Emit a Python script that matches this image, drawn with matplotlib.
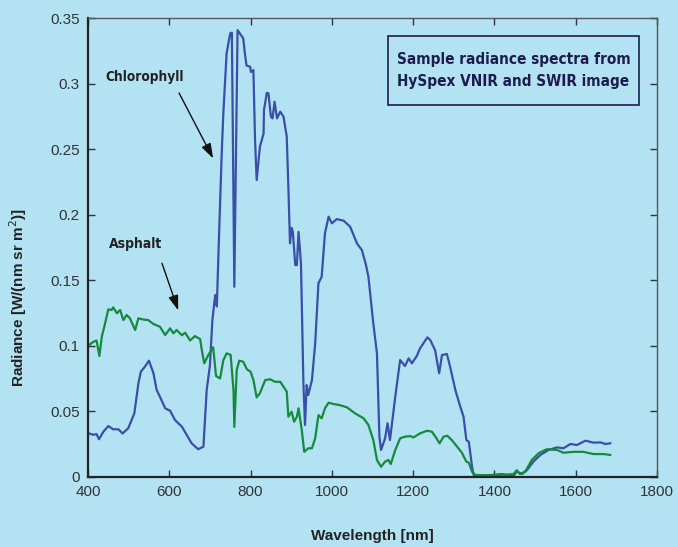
import matplotlib
matplotlib.use("Agg")
import matplotlib.pyplot as plt
from matplotlib.patches import Rectangle
import numpy as np

# Chlorophyll spectrum (wavelength nm, radiance)
chl_wl = [403, 413, 421, 427, 438, 450, 462, 475, 485, 499, 514, 524, 530, 540, 550,
          561, 569, 577, 590, 602, 614, 631, 643, 655, 671, 684, 692, 700, 706, 713,
          717, 721, 729, 733, 741, 750, 754, 760, 768, 782, 786, 790, 799, 801, 807,
          811, 815, 823, 832, 833, 840, 844, 850, 854, 859, 865, 873, 881, 889, 893,
          897, 901, 904, 910, 914, 918, 924, 930, 934, 938, 942, 951, 959, 967, 975,
          983, 992, 1000, 1012, 1029, 1045, 1062, 1074, 1084, 1090, 1102, 1111, 1117,
          1121, 1131, 1137, 1143, 1156, 1168, 1180, 1189, 1197, 1209, 1217, 1235,
          1242, 1254, 1264, 1271, 1283, 1291, 1304, 1316, 1324, 1331, 1337, 1345,
          1349, 1380, 1418, 1447, 1455, 1468, 1480, 1496, 1513, 1533, 1554, 1570,
          1587, 1603, 1624, 1644, 1661, 1673, 1685]
chl_rad = [0.033, 0.032, 0.0326, 0.0286, 0.0344, 0.0387, 0.0362, 0.0362, 0.033, 0.037,
           0.0484, 0.0713, 0.0802, 0.084, 0.0886, 0.079, 0.0662, 0.061, 0.0522, 0.0504,
           0.0433, 0.0382, 0.0318, 0.0255, 0.021, 0.0229, 0.066, 0.085, 0.1196, 0.1387,
           0.130, 0.1706, 0.247, 0.2775, 0.3233, 0.3386, 0.339, 0.145, 0.341, 0.3347,
           0.323, 0.314, 0.313, 0.309, 0.3105, 0.257, 0.2265, 0.252, 0.262, 0.28,
           0.2932, 0.2927, 0.275, 0.2736, 0.2863, 0.2736, 0.2787, 0.275, 0.2596, 0.2214,
           0.1782, 0.190, 0.187, 0.1616, 0.1616, 0.187, 0.163, 0.0713, 0.0395, 0.070,
           0.0624, 0.0738, 0.1018, 0.1477, 0.1527, 0.1858, 0.1985, 0.1935, 0.1967,
           0.1955, 0.1909, 0.178, 0.173, 0.1616, 0.1527, 0.117, 0.0942, 0.0305, 0.0204,
           0.0293, 0.0408, 0.028, 0.0611, 0.0891, 0.0845, 0.0904, 0.0866, 0.0922, 0.098,
           0.1064, 0.1044, 0.0967, 0.079, 0.0929, 0.0937, 0.084, 0.066, 0.0535, 0.0458,
           0.028, 0.0267, 0.0076, 0.0013, 0.001, 0.002, 0.0005, 0.004, 0.002, 0.005,
           0.0115, 0.0166, 0.0204, 0.0224, 0.0217, 0.025, 0.0242, 0.0275, 0.026, 0.0262,
           0.025, 0.0255]

# Asphalt spectrum
asp_wl = [403, 413, 421, 428, 434, 442, 450, 458, 462, 471, 479, 487, 495, 503, 516,
          524, 536, 548, 561, 577, 590, 602, 610, 618, 631, 639, 651, 663, 676, 680,
          686, 696, 708, 715, 725, 733, 741, 751, 758, 760, 766, 772, 782, 791, 800,
          807, 815, 823, 836, 848, 860, 873, 881, 889, 893, 901, 907, 914, 918, 926,
          932, 942, 951, 959, 967, 975, 983, 992, 1004, 1019, 1037, 1057, 1078, 1090,
          1102, 1111, 1121, 1131, 1139, 1145, 1156, 1168, 1180, 1193, 1201, 1217,
          1234, 1246, 1254, 1265, 1275, 1284, 1295, 1308, 1320, 1331, 1337, 1345,
          1353, 1400, 1447, 1455, 1463, 1476, 1492, 1509, 1529, 1554, 1570, 1595,
          1619, 1644, 1669, 1685]
asp_rad = [0.1006, 0.103, 0.104, 0.0922, 0.107, 0.117, 0.1278, 0.1273, 0.1293, 0.1248,
           0.1273, 0.1196, 0.1235, 0.121, 0.112, 0.121, 0.120, 0.1196, 0.1166, 0.1145,
           0.1082, 0.1133, 0.1095, 0.112, 0.108, 0.110, 0.104, 0.1074, 0.105, 0.0967,
           0.0866, 0.0929, 0.0988, 0.0769, 0.075, 0.089, 0.0942, 0.093, 0.066, 0.038,
           0.0815, 0.0886, 0.0878, 0.082, 0.0802, 0.0738, 0.0606, 0.0637, 0.0738,
           0.0744, 0.0725, 0.0725, 0.0687, 0.065, 0.0458, 0.0496, 0.042, 0.0458, 0.0522,
           0.0357, 0.019, 0.0217, 0.0217, 0.0293, 0.047, 0.0446, 0.0522, 0.0565, 0.0555,
           0.0547, 0.053, 0.0484, 0.0446, 0.0395, 0.028, 0.0128, 0.0076, 0.0115, 0.0128,
           0.0097, 0.0204, 0.0293, 0.0306, 0.031, 0.030, 0.0331, 0.0351, 0.0344, 0.031,
           0.0255, 0.0306, 0.0313, 0.028, 0.023, 0.0183, 0.0115, 0.0107, 0.0038, 0.0013,
           0.001, 0.002, 0.005, 0.002, 0.004, 0.0128, 0.018, 0.021, 0.0204, 0.0183,
           0.019, 0.019, 0.0173, 0.0173, 0.0166]

bg = "#b3e3f3"
blue = "#3a4fa8"
green = "#168a3c"
narrow = dict(family="DejaVu Sans", stretch="condensed", fontweight="bold")

fig = plt.figure(figsize=(6.78, 5.47), dpi=100, facecolor=bg)
ax = fig.add_axes([0.1298, 0.1285, 0.8392, 0.838])
ax.set_facecolor(bg)

ax.plot(chl_wl, chl_rad, color=blue, lw=1.6)
ax.plot(asp_wl, asp_rad, color=green, lw=1.6)

ax.set_xlim(400, 1800)
ax.set_ylim(0, 0.35)
ax.set_xticks(np.arange(400, 1801, 200))
ax.set_yticks([0, 0.05, 0.1, 0.15, 0.2, 0.25, 0.3, 0.35])
ax.set_yticklabels(["0", "0.05", "0.1", "0.15", "0.2", "0.25", "0.3", "0.35"])
ax.tick_params(direction="in", top=True, right=True, length=5, width=1,
               labelsize=11, colors="#333333", pad=6)
for lbl in ax.get_xticklabels() + ax.get_yticklabels():
    lbl.set_family("Liberation Sans")
for s in ["left", "bottom"]:
    ax.spines[s].set_linewidth(1.6)
    ax.spines[s].set_color("#222222")
for s in ["top", "right"]:
    ax.spines[s].set_linewidth(1.0)
    ax.spines[s].set_color("#555555")

fig.text(0.5487, 1 - 536 / 547, "Wavelength [nm]", ha="center", va="center",
         fontsize=11, fontweight="bold", family="Liberation Sans", color="#222222")
fig.text(18 / 678, 1 - 298 / 547, "Radiance [W/(nm sr m$^2$)]", ha="center",
         va="center", rotation=90, fontsize=11, fontweight="bold",
         family="Liberation Sans", color="#222222")

arrow = dict(arrowstyle="-|>,head_length=0.9,head_width=0.3", color="#111111",
             lw=1.0, shrinkA=0, shrinkB=0)
ax.annotate("", xy=(708, 0.243), xytext=(624, 0.293), arrowprops=arrow)
ax.annotate("", xy=(622, 0.127), xytext=(582, 0.163), arrowprops=arrow)
ax.text(540, 0.305, "Chlorophyll", ha="center", va="center", fontsize=9.8,
        color="#222222", **narrow)
ax.text(517, 0.1775, "Asphalt", ha="center", va="center", fontsize=10,
        color="#222222", **narrow)

# title box
ax.add_patch(Rectangle((0.527, 0.811), 0.441, 0.1505, transform=ax.transAxes,
                       fc=bg, ec="#1c1c50", lw=1.2, zorder=4))
ax.text(0.7477, 0.886, "Sample radiance spectra from\nHySpex VNIR and SWIR image",
        transform=ax.transAxes, ha="center", va="center", fontsize=11,
        color="#1c1c50", linespacing=1.55, zorder=5, **narrow)

fig.savefig("out.png", dpi=100, facecolor=bg)
